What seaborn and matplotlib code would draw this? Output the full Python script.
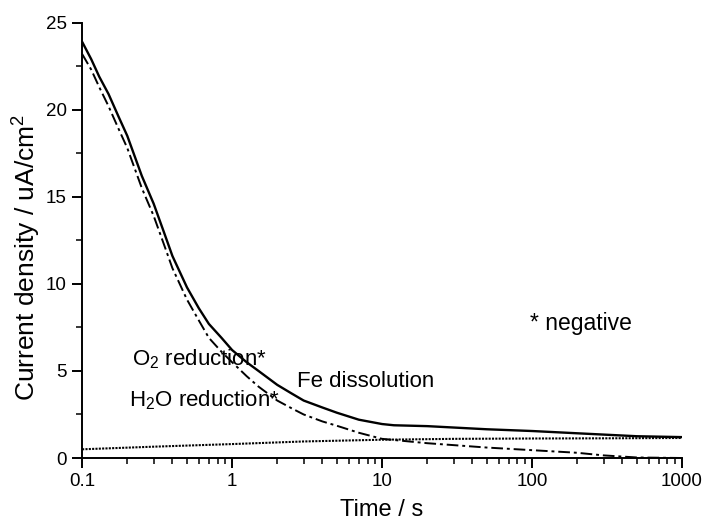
import numpy as np
import pandas as pd
import matplotlib
matplotlib.use("Agg")
import matplotlib.pyplot as plt
import seaborn as sns
from matplotlib.ticker import MultipleLocator, LogLocator, FixedLocator, FixedFormatter, NullFormatter

# ---- data ----
fe_time = [0.1, 0.115, 0.13, 0.15, 0.175, 0.2, 0.25, 0.3, 0.35, 0.4, 0.5, 0.6, 0.7, 0.85, 1, 1.25, 1.5, 2, 2.5, 3, 4, 5, 7, 10, 12, 20, 50, 100, 200, 500, 1000]
fe_current = [23.9, 22.9, 21.9, 20.9, 19.6, 18.5, 16.2, 14.6, 13.0, 11.6, 9.8, 8.6, 7.7, 6.9, 6.2, 5.5, 5.0, 4.2, 3.7, 3.3, 2.9, 2.6, 2.2, 1.95, 1.88, 1.83, 1.65, 1.55, 1.42, 1.25, 1.2]

o2_time = [0.1, 0.115, 0.13, 0.15, 0.175, 0.2, 0.25, 0.3, 0.35, 0.4, 0.5, 0.6, 0.7, 0.85, 1, 1.25, 1.5, 2, 2.5, 3, 4, 5, 7, 10, 20, 50, 100, 200, 300, 500, 1000]
o2_current = [23.2, 22.3, 21.3, 20.2, 18.9, 17.8, 15.5, 13.9, 12.3, 10.9, 9.1, 7.9, 6.9, 6.1, 5.5, 4.7, 4.1, 3.3, 2.85, 2.5, 2.1, 1.85, 1.45, 1.1, 0.85, 0.6, 0.45, 0.3, 0.15, 0.03, 0.0]

h2o_time = [0.1, 0.3, 1, 3, 10, 30, 100, 300, 1000]
h2o_current = [0.5, 0.65, 0.8, 0.95, 1.05, 1.1, 1.12, 1.13, 1.15]

x_ticks = [0.1, 1, 10, 100, 1000]
x_tick_labels = ["0.1", "1", "10", "100", "1000"]
y_ticks = [0, 5, 10, 15, 20, 25]

df = pd.concat([
    pd.DataFrame({"t": fe_time, "j": fe_current, "series": "Fe dissolution"}),
    pd.DataFrame({"t": o2_time, "j": o2_current, "series": "O2 reduction"}),
    pd.DataFrame({"t": h2o_time, "j": h2o_current, "series": "H2O reduction"}),
], ignore_index=True)

sns.set_style("ticks")
plt.rcParams["font.family"] = ["Liberation Sans", "DejaVu Sans"]
plt.rcParams["text.color"] = "black"
plt.rcParams["axes.labelcolor"] = "black"
plt.rcParams["xtick.color"] = "black"
plt.rcParams["ytick.color"] = "black"
plt.rcParams["mathtext.fontset"] = "custom"
plt.rcParams["mathtext.rm"] = "Liberation Sans"
plt.rcParams["mathtext.it"] = "Liberation Sans:italic"

fig = plt.figure(figsize=(7.02, 5.22), dpi=100)
ax = fig.add_axes([0.117, 0.1226, 0.8545, 0.834])

styles = {
    "Fe dissolution": dict(linestyle="-", linewidth=1.7),
    "O2 reduction": dict(linestyle=(0, (6, 2, 1.5, 2)), linewidth=1.4),
    "H2O reduction": dict(linestyle=(0, (1, 0.6)), linewidth=1.5),
}
for name, sty in styles.items():
    sub = df[df["series"] == name]
    sns.lineplot(data=sub, x="t", y="j", ax=ax, color="black", legend=False, **sty)

ax.set_xscale("log")
ax.set_xlim(0.1, 1000)
ax.set_ylim(0, 25)
ax.xaxis.set_major_locator(FixedLocator(x_ticks))
ax.xaxis.set_major_formatter(FixedFormatter(x_tick_labels))
ax.xaxis.set_minor_locator(LogLocator(base=10, subs=np.arange(2, 10)))
ax.xaxis.set_minor_formatter(NullFormatter())
ax.yaxis.set_major_locator(FixedLocator(y_ticks))
ax.yaxis.set_minor_locator(MultipleLocator(2.5))

for s in ["top", "right"]:
    ax.spines[s].set_visible(False)
for s in ["left", "bottom"]:
    ax.spines[s].set_linewidth(1.4)
    ax.spines[s].set_color("black")

ax.tick_params(which="major", direction="out", length=7, width=1.4, labelsize=13.5, pad=4)
ax.tick_params(which="minor", direction="out", length=4, width=1.1)

ax.set_xlabel("Time / s", fontsize=17, labelpad=6)
ax.set_ylabel("Current density / uA/cm$^2$", fontsize=19, labelpad=8)
ax.yaxis.set_label_coords(-0.065, 0.46)

ax.text(2.7, 4.4, "Fe dissolution", fontsize=16, va="center", ha="left")
ax.text(0.215, 5.7, "O$_2$ reduction*", fontsize=16, va="center", ha="left")
ax.text(0.205, 3.3, "H$_2$O reduction*", fontsize=16, va="center", ha="left")
ax.text(97, 7.7, "* negative", fontsize=16.5, va="center", ha="left")

fig.savefig("out.png", dpi=100)
